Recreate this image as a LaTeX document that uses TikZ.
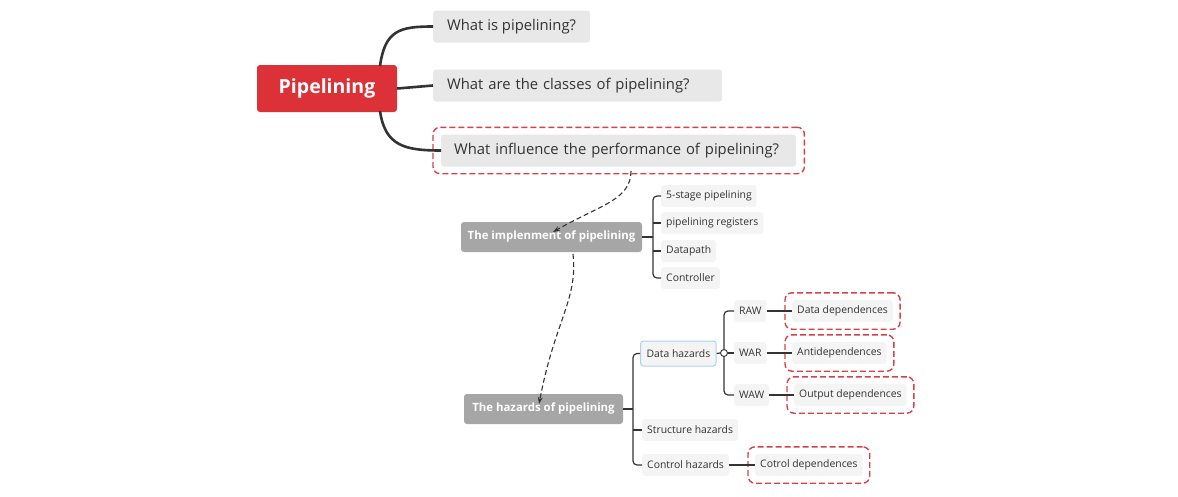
\documentclass[tikz,border=0pt]{standalone}
\usepackage{fontspec}
\setmainfont{Open Sans}
\usetikzlibrary{fit,arrows.meta}
\definecolor{pred}{HTML}{DC3137}
\definecolor{qgray}{HTML}{E8E8E8}
\definecolor{sgray}{HTML}{A6A6A6}
\definecolor{lgray}{HTML}{F4F4F4}
\definecolor{lineg}{HTML}{333333}
\definecolor{dred}{HTML}{D9404A}
\definecolor{lblue}{HTML}{A9D3F5}
\begin{document}
\begin{tikzpicture}[x=1pt,y=-1pt,
  rootbox/.style={fill=pred,rounded corners=3pt,text=white,font=\fontsize{19.5}{22}\selectfont\bfseries,minimum width=140pt,minimum height=47pt,inner sep=0pt},
  qbox/.style={fill=qgray,rounded corners=3pt,text=black!80,font=\fontsize{14.8}{17}\selectfont,minimum height=32pt,inner ysep=0pt,inner xsep=14pt,anchor=west},
  sbox/.style={fill=sgray,rounded corners=3pt,text=white,font=\fontsize{11.4}{13}\selectfont\bfseries,minimum height=30pt,inner sep=0pt},
  leaf/.style={fill=lgray,rounded corners=3pt,text=black!80,font=\fontsize{10.4}{12}\selectfont,minimum height=22pt,inner ysep=0pt,inner xsep=5pt,anchor=west},
  redframe/.style={draw=dred,dash pattern=on 6pt off 3pt,line width=1.4pt,rounded corners=7pt,inner sep=7pt},
  mainline/.style={draw=lineg,line width=2.6pt},
  subline/.style={draw=lineg,line width=1.2pt},
  dashconn/.style={draw=lineg,line width=1.1pt,dash pattern=on 5pt off 3pt,-{Stealth[length=7pt,width=5pt]}}
]
\useasboundingbox (0,0) rectangle (1178,496);

% root and first level
\node[rootbox] (pip) at (327,88.5) {Pipelining};
\node[qbox] (q1) at (433,26.5) {What is pipelining?};
\node[qbox,text width=261pt,align=left] (q2) at (433,85.5) {What are the classes of pipelining?};
\node[qbox,inner xsep=13pt,text width=329pt,align=left] (q3) at (441,150.5) {What influence the performance of pipelining?};
\node[redframe,fit=(q3),inner xsep=8pt,inner ysep=7pt] (f3) {};

\draw[mainline] (380,66) .. controls (385,30) and (400,26.5) .. (q1.west);
\draw[mainline] (pip.east) -- (q2.west);
\draw[mainline] (380,111) .. controls (385,146) and (405,150.5) .. (q3.west);

% implementation
\node[sbox,minimum width=181pt] (impl) at (551.5,237) {The implenment of pipelining};
\node[leaf] (c1) at (661,196) {5-stage pipelining};
\node[leaf] (c2) at (661,223) {pipelining registers};
\node[leaf] (c3) at (661,251) {Datapath};
\node[leaf] (c4) at (661,278) {Controller};
\coordinate (bi) at (653,237);
\draw[subline] (impl.east) -- (bi);
\draw[subline,rounded corners=4pt] (c1.west) -- (bi|-c1.west) -- (bi|-c4.west) -- (c4.west);
\draw[subline] (bi|-c2.west) -- (c2.west);
\draw[subline] (bi|-c3.west) -- (c3.west);

% hazards
\node[sbox,minimum width=159pt] (haz) at (543.5,409) {The hazards of pipelining};
\node[leaf,minimum height=25pt,inner xsep=6pt,draw=lblue,line width=1pt] (dh) at (640,353.5) {Data hazards};
\node[leaf] (sh) at (642,430) {Structure hazards};
\node[leaf] (ch) at (642,465) {Control hazards};
\coordinate (bh) at (633,409);
\draw[subline] (haz.east) -- (bh);
\draw[subline,rounded corners=4pt] (dh.west) -- (bh|-dh.west) -- (bh|-ch.west) -- (ch.west);
\draw[subline] (bh|-sh.west) -- (sh.west);

\node[leaf] (raw) at (734,311) {RAW};
\node[leaf] (war) at (734,353) {WAR};
\node[leaf] (waw) at (734,395) {WAW};
\node[draw=lineg,line width=0.9pt,circle,fill=white,minimum size=7pt,inner sep=0pt] (knob) at (724,353) {};
\draw[subline] (dh.east) -- (knob.west);
\draw[subline,rounded corners=4pt] (raw.west) -- (knob|-raw.west) -- (knob.north);
\draw[subline,rounded corners=4pt] (knob.south) -- (knob|-waw.west) -- (waw.west);
\draw[subline] (knob.east) -- (war.west);

\node[leaf] (dd) at (792,311) {Data dependences};
\node[leaf] (ad) at (792,353) {Antidependences};
\node[leaf] (od) at (794,395) {Output dependences};
\node[leaf] (cd) at (755,465) {Cotrol dependences};
\node[redframe,fit=(dd)] (fdd) {};
\node[redframe,fit=(ad)] (fad) {};
\node[redframe,fit=(od)] (fod) {};
\node[redframe,fit=(cd)] (fcd) {};
\draw[subline] (raw.east) -- (dd.west);
\draw[subline] (war.east) -- (ad.west);
\draw[subline] (waw.east) -- (od.west);
\draw[subline] (ch.east) -- (cd.west);

% dashed relations
\draw[dashconn] (631,171) .. controls (631,200) and (600,205) .. (553,232);
\draw[dashconn] (573,254) .. controls (578,300) and (555,320) .. (539,404);
\end{tikzpicture}
\end{document}
